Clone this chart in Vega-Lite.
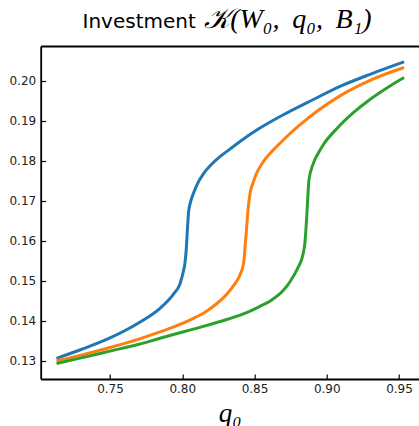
{
  "$schema": "https://vega.github.io/schema/vega-lite/v6.json",
  "autosize": "none",
  "width": 377.8,
  "height": 333,
  "padding": {"left": 40.7, "top": 46, "right": 0, "bottom": 47},
  "background": "white",
  "config": {"view": {"stroke": null}},
  "data": {"values": [
    {"s":"a","i":1,"q":0.713,"k":0.1306},{"s":"a","i":2,"q":0.73,"k":0.1328},{"s":"a","i":3,"q":0.75,"k":0.1357},{"s":"a","i":4,"q":0.77,"k":0.1395},{"s":"a","i":5,"q":0.7846,"k":0.1431},{"s":"a","i":6,"q":0.7938,"k":0.1466},{"s":"a","i":7,"q":0.7984,"k":0.1492},{"s":"a","i":8,"q":0.8007,"k":0.1522},{"s":"a","i":9,"q":0.8019,"k":0.1545},{"s":"a","i":10,"q":0.8028,"k":0.158},{"s":"a","i":11,"q":0.8036,"k":0.163},{"s":"a","i":12,"q":0.8044,"k":0.1672},{"s":"a","i":13,"q":0.806,"k":0.17},{"s":"a","i":14,"q":0.8077,"k":0.1718},{"s":"a","i":15,"q":0.811,"k":0.1746},{"s":"a","i":16,"q":0.8146,"k":0.1767},{"s":"a","i":17,"q":0.82,"k":0.179},{"s":"a","i":18,"q":0.8261,"k":0.181},{"s":"a","i":19,"q":0.833,"k":0.1829},{"s":"a","i":20,"q":0.84,"k":0.1848},{"s":"a","i":21,"q":0.8526,"k":0.1879},{"s":"a","i":22,"q":0.87,"k":0.1915},{"s":"a","i":23,"q":0.8907,"k":0.1953},{"s":"a","i":24,"q":0.91,"k":0.1987},{"s":"a","i":25,"q":0.93,"k":0.2016},{"s":"a","i":26,"q":0.9535,"k":0.2047},
    {"s":"b","i":1,"q":0.713,"k":0.13},{"s":"b","i":2,"q":0.73,"k":0.1314},{"s":"b","i":3,"q":0.75,"k":0.1333},{"s":"b","i":4,"q":0.77,"k":0.1354},{"s":"b","i":5,"q":0.7846,"k":0.1372},{"s":"b","i":6,"q":0.795,"k":0.1386},{"s":"b","i":7,"q":0.8077,"k":0.1406},{"s":"b","i":8,"q":0.816,"k":0.1422},{"s":"b","i":9,"q":0.824,"k":0.1443},{"s":"b","i":10,"q":0.83,"k":0.1463},{"s":"b","i":11,"q":0.835,"k":0.1485},{"s":"b","i":12,"q":0.84,"k":0.1515},{"s":"b","i":13,"q":0.8425,"k":0.1545},{"s":"b","i":14,"q":0.8436,"k":0.159},{"s":"b","i":15,"q":0.8446,"k":0.1635},{"s":"b","i":16,"q":0.8456,"k":0.168},{"s":"b","i":17,"q":0.8469,"k":0.1718},{"s":"b","i":18,"q":0.849,"k":0.1745},{"s":"b","i":19,"q":0.8515,"k":0.1769},{"s":"b","i":20,"q":0.856,"k":0.1797},{"s":"b","i":21,"q":0.8607,"k":0.1818},{"s":"b","i":22,"q":0.868,"k":0.1845},{"s":"b","i":23,"q":0.8746,"k":0.1868},{"s":"b","i":24,"q":0.885,"k":0.19},{"s":"b","i":25,"q":0.8942,"k":0.1926},{"s":"b","i":26,"q":0.91,"k":0.1964},{"s":"b","i":27,"q":0.93,"k":0.2001},{"s":"b","i":28,"q":0.9535,"k":0.2033},
    {"s":"c","i":1,"q":0.713,"k":0.1293},{"s":"c","i":2,"q":0.73,"k":0.1307},{"s":"c","i":3,"q":0.75,"k":0.1324},{"s":"c","i":4,"q":0.77,"k":0.1341},{"s":"c","i":5,"q":0.7846,"k":0.1356},{"s":"c","i":6,"q":0.8077,"k":0.1379},{"s":"c","i":7,"q":0.8308,"k":0.1403},{"s":"c","i":8,"q":0.845,"k":0.1421},{"s":"c","i":9,"q":0.8538,"k":0.1436},{"s":"c","i":10,"q":0.862,"k":0.1452},{"s":"c","i":11,"q":0.87,"k":0.1476},{"s":"c","i":12,"q":0.875,"k":0.15},{"s":"c","i":13,"q":0.88,"k":0.1532},{"s":"c","i":14,"q":0.8835,"k":0.1565},{"s":"c","i":15,"q":0.8849,"k":0.1595},{"s":"c","i":16,"q":0.8858,"k":0.164},{"s":"c","i":17,"q":0.8866,"k":0.169},{"s":"c","i":18,"q":0.8877,"k":0.1752},{"s":"c","i":19,"q":0.8907,"k":0.1793},{"s":"c","i":20,"q":0.894,"k":0.1818},{"s":"c","i":21,"q":0.8976,"k":0.1840},{"s":"c","i":22,"q":0.9069,"k":0.1880},{"s":"c","i":23,"q":0.9184,"k":0.1920},{"s":"c","i":24,"q":0.9299,"k":0.1953},{"s":"c","i":25,"q":0.94,"k":0.1978},{"s":"c","i":26,"q":0.9535,"k":0.2008}
  ]},
  "resolve": {"axis": {"x": "independent"}},
  "layer": [
    {
      "mark": {"type": "line", "strokeWidth": 3, "clip": true, "interpolate": "monotone"},
      "encoding": {
        "x": {"field": "q", "type": "quantitative",
          "scale": {"domain": [0.70204, 0.96349], "nice": false, "zero": false},
          "axis": {"orient": "bottom", "values": [0.75, 0.8, 0.85, 0.9, 0.95], "format": ".2f",
            "grid": false, "domainColor": "black", "domainWidth": 1.8, "tickColor": "black", "tickWidth": 1.2, "tickSize": -5,
            "labelFont": "DejaVu Sans", "labelFontSize": 12, "labelColor": "#222", "labelPadding": 9,
            "title": "q₀", "titleFont": "Liberation Serif", "titleFontStyle": "italic", "titleFontWeight": "normal", "titleFontSize": 27, "titleColor": "black",
            "titleBaseline": "alphabetic", "titleY": 42}},
        "y": {"field": "k", "type": "quantitative",
          "scale": {"domain": [0.125425, 0.208675], "nice": false, "zero": false},
          "axis": {"values": [0.13, 0.14, 0.15, 0.16, 0.17, 0.18, 0.19, 0.2], "format": ".2f",
            "grid": false, "domainColor": "black", "domainWidth": 1.8, "tickColor": "black", "tickWidth": 1.2, "tickSize": -5,
            "labelFont": "DejaVu Sans", "labelFontSize": 12, "labelColor": "#222", "labelPadding": 10,
            "title": "Investment", "titleFont": "DejaVu Sans", "titleFontWeight": "normal", "titleFontSize": 20, "titleColor": "black",
            "titleAngle": 0, "titleAlign": "left", "titleBaseline": "alphabetic", "titleX": 41.3, "titleY": -19}},
        "color": {"field": "s", "type": "nominal", "legend": null,
          "scale": {"domain": ["a", "b", "c"], "range": ["#1f77b4", "#ff7f0e", "#2ca02c"]}},
        "order": {"field": "i", "type": "quantitative"}
      }
    },
    {
      "mark": {"type": "point", "opacity": 0},
      "encoding": {
        "x": {"field": "q", "type": "quantitative",
          "axis": {"orient": "top", "labels": false, "ticks": false, "grid": false, "domainColor": "black", "domainWidth": 1.8,
            "title": "𝒦(W₀, \u2009q₀, \u2009B₁)", "titleFont": "Liberation Serif", "titleFontStyle": "italic", "titleFontWeight": "normal", "titleFontSize": 28, "titleColor": "black",
            "titleAngle": 0, "titleAlign": "left", "titleBaseline": "alphabetic", "titleX": 163, "titleY": -19}},
        "y": {"field": "k", "type": "quantitative"}
      }
    }
  ]
}
